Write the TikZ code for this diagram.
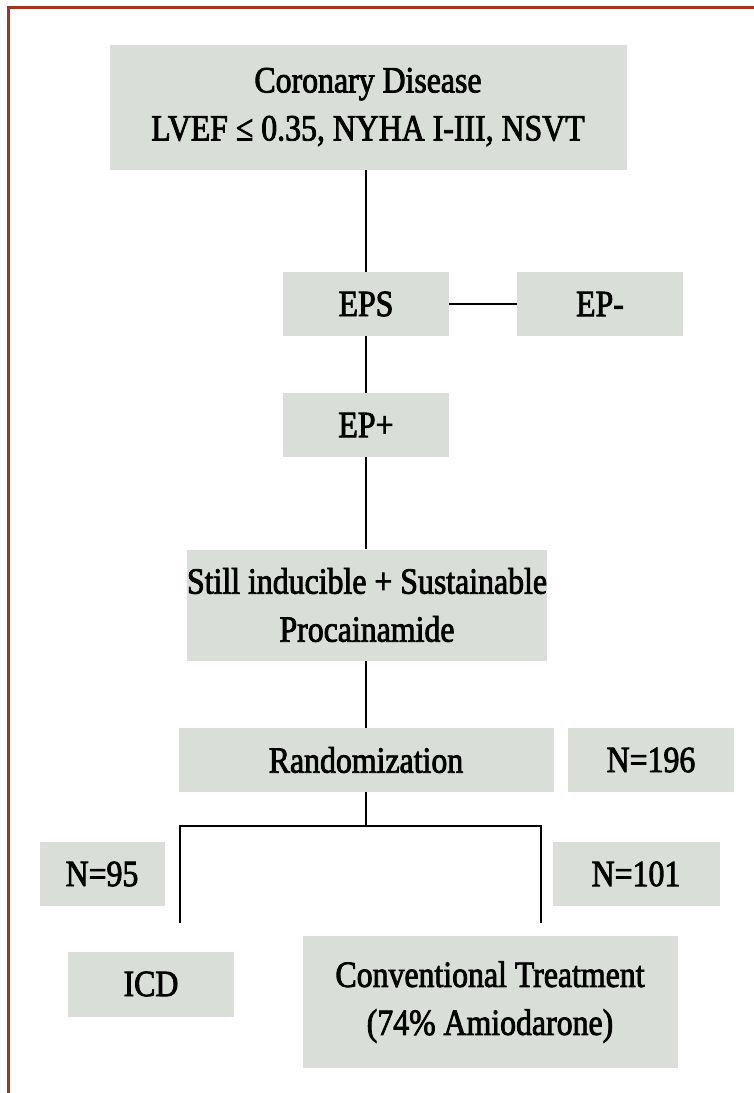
\documentclass[tikz,border=0pt]{standalone}
\usepackage{fontspec}
\setmainfont{Liberation Serif}[FakeStretch=0.86,FakeBold=2.2]
\usepackage{xcolor}
\usepackage{tikz}
\usetikzlibrary{positioning}
\definecolor{boxgray}{HTML}{D9DED8}
\definecolor{framered}{HTML}{A6331F}
\begin{document}
\begin{tikzpicture}[
    x=1pt,y=-1pt,
    every node/.style={font=\fontsize{37}{48}\selectfont},
    stage/.style ={rectangle,fill=boxgray,inner sep=0pt,
                   minimum width=166pt,minimum height=64pt,
                   align=center},
    wide/.style  ={stage,minimum width=375pt},
    link/.style  ={black,line width=1.3pt},
  ]
  \useasboundingbox (0,0) rectangle (754,1093);
  % Frame: top and left rule
  \draw[framered,line width=3pt] (8,1093) -- (8,7) -- (754,7);

  % Main column
  \node[stage,minimum width=517pt,minimum height=125pt] (CD) at (368,107)
       {Coronary Disease\\LVEF ≤ 0.35, NYHA I-III, NSVT};
  \node[stage] (EPS) at (366,304) {EPS};
  \node[stage] (EPN) at (600,304) {EP-};
  \node[stage] (EPP) at (366,425) {EP+};
  \node[stage,minimum width=321pt,minimum height=111pt] (SI) at (367,605)
       {Still inducible + Sustainable\\Procainamide};
  \node[wide] (RND) at (366,760) {Randomization};
  \node[stage] (N196) at (651,760) {N=196};

  % Arms
  \node[stage,minimum width=125pt] (N95) at (102,874) {N=95};
  \node[stage,minimum width=167pt] (N101) at (636,874) {N=101};
  \node[stage,minimum height=65pt] (ICD) at (151,984) {ICD};
  \node[wide,minimum height=132pt] (CT) at (490,1002)
       {Conventional Treatment\\(74\% Amiodarone)};

  % Connectors
  \draw[link] (CD.south -| EPS) -- (EPS.north);
  \draw[link] (EPS) -- (EPN);
  \draw[link] (EPS) -- (EPP);
  \draw[link] (EPP.south) -- (SI.north -| EPP);
  \draw[link] (SI.south -| RND) -- (RND.north);

  % Split into the two arms
  \coordinate (split) at (366,826);
  \coordinate (armL) at (180,826);
  \coordinate (armR) at (541,826);
  \coordinate (endL) at (180,923);
  \coordinate (endR) at (541,923);
  \draw[link] (RND.south) -- (split);
  \draw[link] (endL) -- (armL) -- (armR) -- (endR);
\end{tikzpicture}
\end{document}
